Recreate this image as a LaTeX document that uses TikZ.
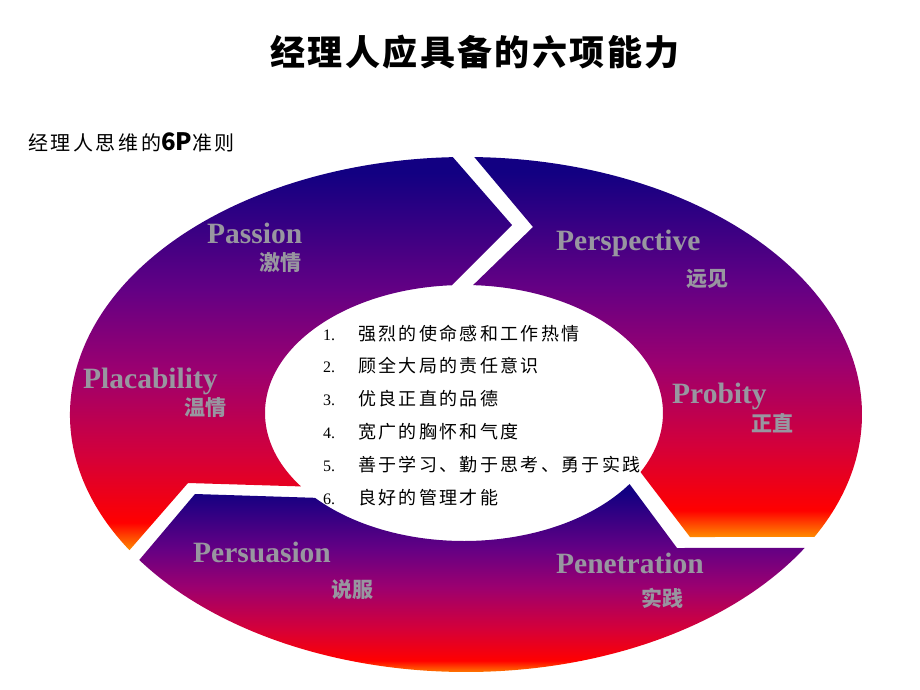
\documentclass[tikz,border=0pt]{standalone}
\usepackage{fontspec}
\setmainfont{Liberation Serif}
\newfontfamily\cjk{Noto Sans CJK SC}
\newfontfamily\cjkwide[LetterSpace=13]{Noto Sans CJK SC}
\newfontfamily\cjktitle[LetterSpace=7]{Noto Sans CJK SC}
\usetikzlibrary{positioning,calc}

\definecolor{fadenavy}{RGB}{18,0,130}
\definecolor{fadeviolet}{RGB}{100,0,132}
\definecolor{fademagenta}{RGB}{155,0,112}
\definecolor{fadecrimson}{RGB}{212,0,58}
\definecolor{fadered}{RGB}{255,0,0}
\definecolor{fadeorange}{RGB}{255,140,0}
\definecolor{labelgray}{RGB}{152,150,160}

\pgfdeclareverticalshading{ringfade}{100bp}{color(0bp)=(fadeorange); color(25bp)=(fadeorange);
  color(28.5bp)=(fadered); color(37bp)=(fadecrimson); color(48bp)=(fademagenta);
  color(58bp)=(fadeviolet); color(73bp)=(fadenavy); color(100bp)=(fadenavy)}

\begin{document}
\begin{tikzpicture}[x=1pt, y=-1pt,
  ring/.style={shading=ringfade},
  pname/.style={font=\fontsize{29.5}{29.5}\selectfont\bfseries, text=labelgray, inner sep=0pt, anchor=base west},
  pcn/.style={font=\cjk\fontsize{21}{21}\selectfont\bfseries, text=labelgray, inner sep=0pt},
  num/.style={font=\fontsize{16}{16}\selectfont, inner sep=0pt, anchor=base west},
  item/.style={font=\cjkwide\fontsize{18}{18}\selectfont, inner sep=0pt, anchor=base west}]
\useasboundingbox[fill=white] (0,0) rectangle (920,690);

% titles
\node[font=\cjktitle\fontsize{35}{35}\selectfont\bfseries] (title) at (475,52.5) {经理人应具备的六项能力};
\node[font=\cjkwide\fontsize{20}{20}\selectfont, anchor=west, inner sep=0pt] (sub) at (28,142) {经理人思维的{\cjk\bfseries\fontsize{24}{24}\selectfont 6P}准则};

% ring centres and corners
\coordinate (oc) at (466,414.5);
\coordinate (ic) at (464,413);
\coordinate (tipA) at (512,225);
\coordinate (footA) at (188,483);
\coordinate (notchB) at (533,227);
\coordinate (footB) at (690,537);
\coordinate (footC) at (677,548);
\coordinate (tailC) at (195,494);

% Passion / Placability
\shade[ring] ($(oc)+(148.2:396 and 257.5)$) arc[start angle=148.2, end angle=268.1, x radius=396, y radius=257.5]
  -- (tipA) -- ($(ic)+(266.5:199 and 128)$) arc[start angle=266.5, end angle=145, x radius=199, y radius=128]
  -- (footA) -- cycle;
% Perspective / Probity
\shade[ring] ($(oc)+(271.2:396 and 257.5)$) arc[start angle=271.2, end angle=388.4, x radius=396, y radius=257.5]
  -- (footB) -- ($(ic)+(27.5:199 and 128)$) arc[start angle=27.5, end angle=-87.4, x radius=199, y radius=128]
  -- (notchB) -- cycle;
% Persuasion / Penetration
\shade[ring] ($(ic)+(33.7:199 and 128)$) -- (footC) -- ($(oc)+(31.2:396 and 257.5)$)
  arc[start angle=31.2, end angle=145.6, x radius=396, y radius=257.5]
  -- (tailC) -- ($(ic)+(138.5:199 and 128)$) arc[start angle=138.5, end angle=33.7, x radius=199, y radius=128]
  -- cycle;

% six P
\node[pname] (passion) at (207,243) {Passion};
\node[pcn] (passioncn) at (280,262.5) {激情};
\node[pname] (perspective) at (556,250) {Perspective};
\node[pcn] (perspectivecn) at (707.5,279) {远见};
\node[pname] (placability) at (83,388) {Placability};
\node[pcn] (placabilitycn) at (205.5,408) {温情};
\node[pname] (probity) at (672,403) {Probity};
\node[pcn] (probitycn) at (772.5,423) {正直};
\node[pname] (persuasion) at (193,562) {Persuasion};
\node[pcn] (persuasioncn) at (352.5,590) {说服};
\node[pname] (penetration) at (556,573) {Penetration};
\node[pcn] (penetrationcn) at (662.5,598) {实践};

% list in the middle
\node[num] (n1) at (323,340) {1.};
\node[item] (t1) at (358,340) {强烈的使命感和工作热情};
\node[num] (n2) at (323,372.8) {2.};
\node[item] (t2) at (358,372.8) {顾全大局的责任意识};
\node[num] (n3) at (323,405.6) {3.};
\node[item] (t3) at (358,405.6) {优良正直的品德};
\node[num] (n4) at (323,438.4) {4.};
\node[item] (t4) at (358,438.4) {宽广的胸怀和气度};
\node[num] (n5) at (323,471.2) {5.};
\node[item] (t5) at (358,471.2) {善于学习、勤于思考、勇于实践};
\node[num] (n6) at (323,504) {6.};
\node[item] (t6) at (358,504) {良好的管理才能};
\end{tikzpicture}
\end{document}
